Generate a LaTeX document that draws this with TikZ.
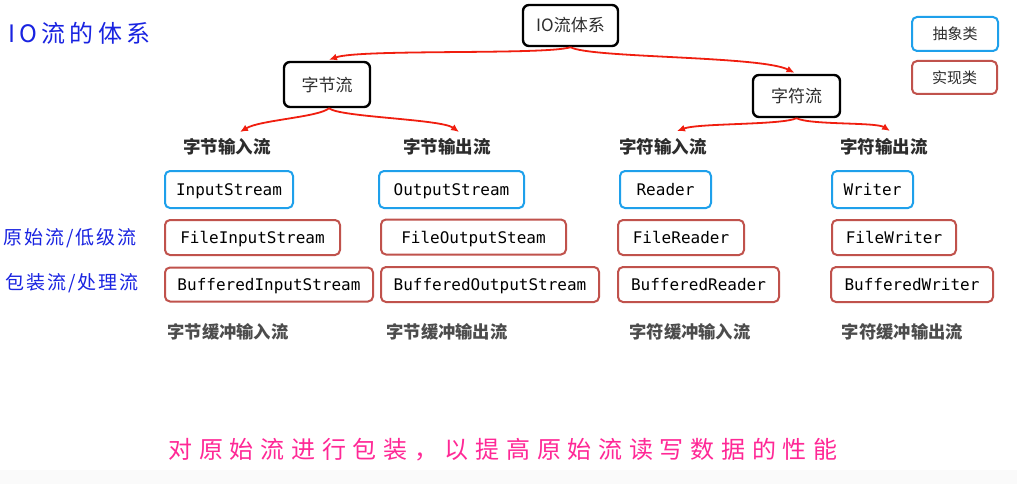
\documentclass[tikz,border=0pt]{standalone}
\usepackage{fontspec}
\usetikzlibrary{arrows.meta}
\newfontfamily\cjk{Noto Sans CJK SC}
\newfontfamily\handA[LetterSpace=18]{Noto Sans CJK SC}
\newfontfamily\handB[LetterSpace=10]{Noto Sans CJK SC}
\newfontfamily\handC[LetterSpace=28]{Noto Sans CJK SC}
\newfontfamily\monof{DejaVu Sans Mono}
\definecolor{absblue}{RGB}{30,160,235}
\definecolor{implred}{RGB}{192,82,76}
\definecolor{arrred}{RGB}{240,30,15}
\definecolor{txtgray}{RGB}{45,45,45}
\definecolor{hblue}{RGB}{25,35,225}
\definecolor{hpink}{RGB}{255,40,150}
\tikzset{
  mainbox/.style={draw=black, line width=2.4pt, rounded corners=6pt, fill=white, inner sep=0pt,
    font=\cjk\fontsize{17}{19}\selectfont, text=txtgray},
  absbox/.style={draw=absblue, line width=2pt, rounded corners=5pt, inner sep=0pt,
    text height=12pt, text depth=0pt,
    font=\monof\fontsize{16}{18}\selectfont, text=black},
  implbox/.style={draw=implred, line width=2pt, rounded corners=5pt, inner sep=0pt,
    text height=12pt, text depth=0pt,
    font=\monof\fontsize{16}{18}\selectfont, text=black},
  legabs/.style={draw=absblue, line width=2pt, rounded corners=5pt, inner sep=0pt,
    font=\cjk\fontsize{15}{17}\selectfont, text=txtgray},
  legimpl/.style={draw=implred, line width=2pt, rounded corners=5pt, inner sep=0pt,
    font=\cjk\fontsize{15}{17}\selectfont, text=txtgray},
  catlabel/.style={inner sep=0pt, font=\cjk\bfseries\fontsize{17.5}{19}\selectfont, text=txtgray},
  buflabel/.style={inner sep=0pt, font=\cjk\bfseries\fontsize{17.3}{19}\selectfont, text=txtgray!85},
  redarrow/.style={draw=arrred, line width=1.8pt, -{Latex[length=8pt,width=7pt]}},
}
\begin{document}
\begin{tikzpicture}[x=1pt,y=-1pt]
\useasboundingbox (0,0) rectangle (1017,484);
\fill[white] (0,0) rectangle (1017,484);
\fill[black!2] (0,470) rectangle (1017,484);

% title and side notes
\node[anchor=west, inner sep=0pt, text=hblue, font=\handA\fontsize{24}{26}\selectfont] (title) at (8,33) {IO流的体系};
\node[anchor=east, inner sep=0pt, text=hblue, font=\handB\fontsize{19}{21}\selectfont] (raw) at (137,238) {原始流/低级流};
\node[anchor=east, inner sep=0pt, text=hblue, font=\handB\fontsize{19}{21}\selectfont] (wrap) at (139,283) {包装流/处理流};
\node[inner sep=0pt, text=hpink, font=\handC\fontsize{24}{26}\selectfont] (note) at (503,450) {对原始流进行包装，以提高原始流读写数据的性能};

% legend
\node[legabs, minimum width=86pt, minimum height=34pt] (lgabs) at (955,34) {抽象类};
\node[legimpl, minimum width=85pt, minimum height=33pt] (lgimpl) at (954.5,77.5) {实现类};

% hierarchy
\node[mainbox, minimum width=95pt, minimum height=41pt] (io) at (570.5,25.5) {IO流体系};
\node[mainbox, minimum width=86pt, minimum height=45pt] (zj) at (327,84.5) {字节流};
\node[mainbox, minimum width=87pt, minimum height=42pt] (zf) at (796.5,96) {字符流};

\node[catlabel] (zjin) at (227,147) {字节输入流};
\node[catlabel] (zjout) at (447,147) {字节输出流};
\node[catlabel] (zfin) at (663,147) {字符输入流};
\node[catlabel] (zfout) at (884,147) {字符输出流};

% abstract classes
\node[absbox, minimum width=128pt, minimum height=37pt] (is) at (229,189.5) {InputStream};
\node[absbox, minimum width=145pt, minimum height=37pt] (os) at (451.5,189.5) {OutputStream};
\node[absbox, minimum width=91pt, minimum height=37pt] (rd) at (665.5,189.5) {Reader};
\node[absbox, minimum width=81pt, minimum height=37pt] (wr) at (872.5,189.5) {Writer};

% file classes
\node[implbox, minimum width=175pt, minimum height=35pt] (fis) at (252.5,237.5) {FileInputStream};
\node[implbox, minimum width=185pt, minimum height=35pt] (fos) at (473.5,237) {FileOutputSteam};
\node[implbox, minimum width=126pt, minimum height=35pt] (frd) at (681,237.5) {FileReader};
\node[implbox, minimum width=124pt, minimum height=35pt] (fwr) at (894,237.5) {FileWriter};

% buffered classes
\node[implbox, minimum width=208pt, minimum height=34pt] (bis) at (269,284.5) {BufferedInputStream};
\node[implbox, minimum width=218pt, minimum height=35pt] (bos) at (490,284.5) {BufferedOutputStream};
\node[implbox, minimum width=161pt, minimum height=35pt] (brd) at (698.5,284.5) {BufferedReader};
\node[implbox, minimum width=162pt, minimum height=35pt] (bwr) at (912,284.5) {BufferedWriter};

\node[buflabel] (bl1) at (228,332) {字节缓冲输入流};
\node[buflabel] (bl2) at (447,332) {字节缓冲输出流};
\node[buflabel] (bl3) at (690,332) {字符缓冲输入流};
\node[buflabel] (bl4) at (902.5,332) {字符缓冲输出流};

% connectors
\coordinate (zjtip) at ([xshift=2pt,yshift=1pt]zj.north);
\coordinate (zftip) at ([xshift=-2pt,yshift=1pt]zf.north);
\draw[redarrow] (io.south) .. controls ++(-25,8) and ++(31,-11) .. (zjtip);
\draw[redarrow] (io.south) .. controls ++(20,11) and ++(-34,-17) .. (zftip);

\coordinate (zjintip) at ([xshift=13pt,yshift=15pt]zjin.center);
\coordinate (zjouttip) at ([xshift=12pt,yshift=15pt]zjout.center);
\draw[redarrow] ([xshift=2pt]zj.south) .. controls ++(-10,9) and ++(20,-12) .. (zjintip);
\draw[redarrow] ([xshift=2pt]zj.south) .. controls ++(10,9) and ++(-18,-13) .. (zjouttip);

\coordinate (zfintip) at ([xshift=14pt,yshift=16pt]zfin.center);
\coordinate (zfouttip) at ([xshift=6pt,yshift=16pt]zfout.center);
\draw[redarrow] (zf.south) .. controls ++(-15,7) and ++(22,-8) .. (zfintip);
\draw[redarrow] (zf.south) .. controls ++(14,7) and ++(-14,-9) .. (zfouttip);
\end{tikzpicture}
\end{document}
